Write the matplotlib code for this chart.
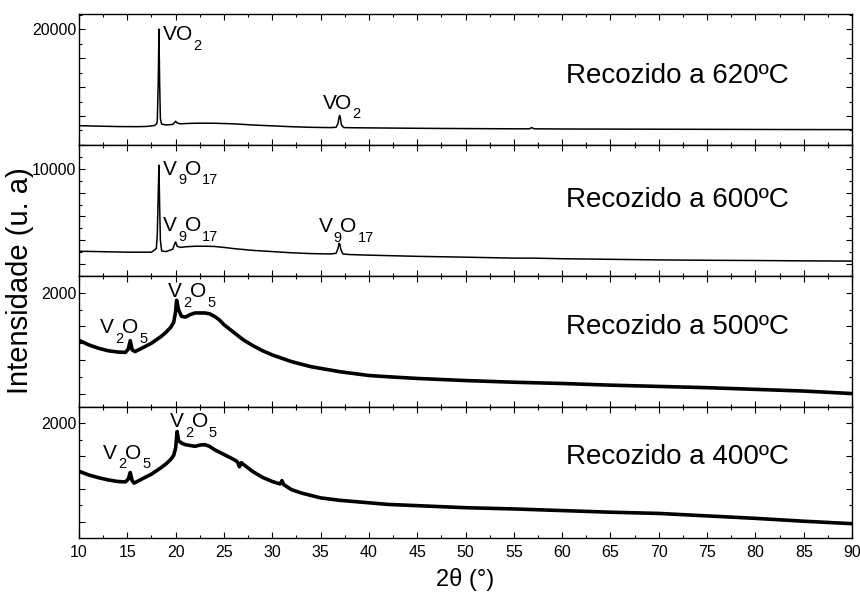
import matplotlib
matplotlib.use("Agg")
import matplotlib.pyplot as plt
from matplotlib.ticker import MultipleLocator, FixedLocator
from matplotlib.transforms import offset_copy

plt.rcParams['font.family'] = ['Liberation Sans', 'DejaVu Sans']

# --- XRD patterns (2theta in degrees, intensity in counts) ---
two_theta_620 = [10, 12, 14, 16, 17, 17.8, 18.05, 18.1, 18.2, 18.27, 18.34, 18.42, 18.55,
                 19.0, 19.7, 19.9, 20.0, 20.15, 20.5, 21, 22, 23, 24, 25, 26, 27, 28, 30,
                 32, 34, 36, 36.6, 36.8, 36.9, 36.97, 37.05, 37.15, 37.4, 38, 40, 45, 50,
                 55, 56.6, 56.85, 57.1, 60, 65, 70, 75, 80, 85, 90]
intensity_620 = [3330, 3250, 3180, 3160, 3200, 3350, 3700, 4200, 11000, 20000, 11000, 4500, 3600,
                 3450, 3550, 3900, 4100, 3800, 3650, 3700, 3750, 3760, 3750, 3700, 3650, 3550, 3450, 3300,
                 3150, 3050, 3000, 3050, 3700, 4700, 5100, 4600, 3500, 3000, 2980, 2950, 2880, 2830,
                 2790, 2790, 3000, 2790, 2760, 2740, 2720, 2700, 2680, 2660, 2650]

two_theta_600 = [10, 15, 17.5, 18.0, 18.1, 18.2, 18.27, 18.34, 18.42, 18.55, 19.0, 19.7, 19.9,
                 20.0, 20.15, 20.5, 21, 22, 23, 24, 25, 26, 28, 30, 32, 34, 36, 36.6, 36.8,
                 36.92, 37.0, 37.1, 37.3, 38, 40, 45, 50, 55, 57, 60, 65, 70, 75, 80, 85, 90]
intensity_600 = [3080, 3000, 3000, 3300, 4500, 8000, 10300, 7000, 4000, 3100, 3050, 3250, 3700,
                 3850, 3500, 3400, 3450, 3500, 3500, 3480, 3400, 3300, 3150, 3050, 2950, 2880, 2850, 2900, 3300,
                 3750, 3650, 3200, 2850, 2800, 2750, 2650, 2580, 2500, 2500, 2450, 2400, 2350, 2320, 2300, 2270, 2250]

two_theta_500 = [10, 11, 12, 13, 14, 14.8, 15.1, 15.3, 15.5, 15.8, 16.5, 17, 17.5, 18, 18.5, 19,
                 19.5, 19.8, 20.0, 20.1, 20.3, 20.6, 21, 21.5, 22, 22.5, 23, 23.5, 24, 24.5, 25,
                 26, 27, 28, 29, 30, 31, 32, 33, 34, 35, 37, 40, 42, 45, 50, 55, 60, 65, 70, 75,
                 80, 85, 90]
intensity_500 = [1434, 1380, 1340, 1310, 1295, 1290, 1330, 1430, 1320, 1300, 1340, 1370, 1400, 1440, 1480, 1530,
                 1590, 1650, 1780, 1910, 1800, 1720, 1710, 1740, 1760, 1760, 1760, 1750, 1720, 1680, 1620,
                 1530, 1440, 1370, 1310, 1260, 1220, 1180, 1150, 1120, 1100, 1060, 1015, 1000, 980, 955, 935, 920, 900, 885, 870,
                 850, 830, 800]

two_theta_400 = [10, 11, 12, 13, 14, 14.8, 15.1, 15.3, 15.5, 15.7, 16.5, 17, 17.5, 18, 18.5, 19,
                 19.5, 19.8, 20.0, 20.15, 20.3, 20.6, 21, 21.5, 22, 22.5, 23, 23.5, 24, 24.5, 25,
                 25.5, 26, 26.4, 26.6, 26.8, 27, 28, 29, 30, 30.8, 31, 31.2, 32, 33, 34, 35, 37,
                 40, 42, 45, 50, 55, 60, 65, 70, 75, 80, 85, 90]
intensity_400 = [1415, 1370, 1337, 1310, 1290, 1285, 1320, 1400, 1300, 1270, 1320, 1350, 1380, 1420, 1460, 1505,
                 1560, 1610, 1700, 1900, 1790, 1760, 1740, 1730, 1720, 1735, 1740, 1720, 1680, 1650, 1620,
                 1590, 1560, 1530, 1470, 1520, 1500, 1410, 1340, 1290, 1260, 1300, 1250, 1190, 1150, 1120, 1090, 1060,
                 1030, 1010, 995, 970, 955, 935, 915, 900, 870, 840, 805, 775]

x_ticks = [10, 15, 20, 25, 30, 35, 40, 45, 50, 55, 60, 65, 70, 75, 80, 85, 90]
anneal_labels = ['Recozido a 620ºC', 'Recozido a 600ºC', 'Recozido a 500ºC', 'Recozido a 400ºC']

# phase formulas as (text, is_subscript) pieces
VO2 = [('V', False), ('O', False), ('2', True)]
V9O17 = [('V', False), ('9', True), ('O', False), ('17', True)]
V2O5 = [('V', False), ('2', True), ('O', False), ('5', True)]

panels = [
    dict(x=two_theta_620, y=intensity_620, ylim=(0, 22600), major=5000, minor=2500, ylab=20000,
         lw=1.1, text_y=0.527,
         peaks=[(18.7, 18090, VO2), (35.2, 6285, VO2)]),
    dict(x=two_theta_600, y=intensity_600, ylim=(1000, 12000), major=2000, minor=1000, ylab=10000,
         lw=1.1, text_y=0.58,
         peaks=[(18.7, 9500, V9O17), (18.7, 4750, V9O17), (34.8, 4670, V9O17)]),
    dict(x=two_theta_500, y=intensity_500, ylim=(640, 2200), major=400, minor=200, ylab=2000,
         lw=2.6, text_y=0.61,
         peaks=[(12.2, 1517, V2O5), (19.2, 1950, V2O5)]),
    dict(x=two_theta_400, y=intensity_400, ylim=(600, 2200), major=400, minor=200, ylab=2000,
         lw=2.6, text_y=0.62,
         peaks=[(12.5, 1570, V2O5), (19.4, 1950, V2O5)]),
]

fig, axes = plt.subplots(4, 1, figsize=(8.6, 5.95), dpi=100, sharex=True)
fig.subplots_adjust(left=0.0919, right=0.9907, top=0.9765, bottom=0.0958, hspace=0)
renderer = fig.canvas.get_renderer()


def formula(ax, x, y, pieces, size=15, subsize=10.5, drop=7.0):
    """Write a chemical formula piece by piece, subscripts dropped below the baseline."""
    dx = 0.0
    for i, (txt, sub) in enumerate(pieces):
        tr = offset_copy(ax.transData, fig=fig, x=dx, y=-drop if sub else 0.0, units='points')
        t = ax.text(x, y, txt, transform=tr, fontsize=subsize if sub else size,
                    ha='left', va='baseline')
        w = t.get_window_extent(renderer=renderer).width * 72.0 / fig.dpi
        next_sub = i + 1 < len(pieces) and pieces[i + 1][1]
        dx += w + (0.8 if next_sub else -1.0)


for ax, p, lab in zip(axes, panels, anneal_labels):
    ax.plot(p['x'], p['y'], color='black', lw=p['lw'], solid_joinstyle='round')
    ax.set_xlim(10, 90)
    ax.set_ylim(*p['ylim'])
    ax.xaxis.set_major_locator(FixedLocator(x_ticks))
    ax.xaxis.set_minor_locator(MultipleLocator(2.5))
    ax.yaxis.set_major_locator(MultipleLocator(p['major']))
    ax.yaxis.set_minor_locator(MultipleLocator(p['minor']))
    ax.yaxis.set_major_formatter(
        plt.FuncFormatter(lambda v, pos, lv=p['ylab']: f"{lv}" if abs(v - lv) < 1e-6 else ""))
    ax.tick_params(which='both', direction='in', top=True, right=True)
    ax.tick_params(which='major', length=4.5, width=0.8, labelsize=11.5, pad=2)
    ax.tick_params(which='minor', length=2.5, width=0.8)
    ax.tick_params(axis='x', which='major', pad=5)
    for s in ax.spines.values():
        s.set_linewidth(1.0)
    ax.text(0.63, p['text_y'], lab, transform=ax.transAxes, fontsize=20,
            ha='left', va='center')

for ax, p in zip(axes, panels):
    for px, py, pieces in p['peaks']:
        formula(ax, px, py, pieces)

axes[-1].set_xlabel('2θ (°)', fontsize=17, labelpad=6)
fig.text(0.023, 0.529, 'Intensidade (u. a)', rotation=90, fontsize=21, ha='center', va='center')

fig.savefig('out.png', dpi=100)
